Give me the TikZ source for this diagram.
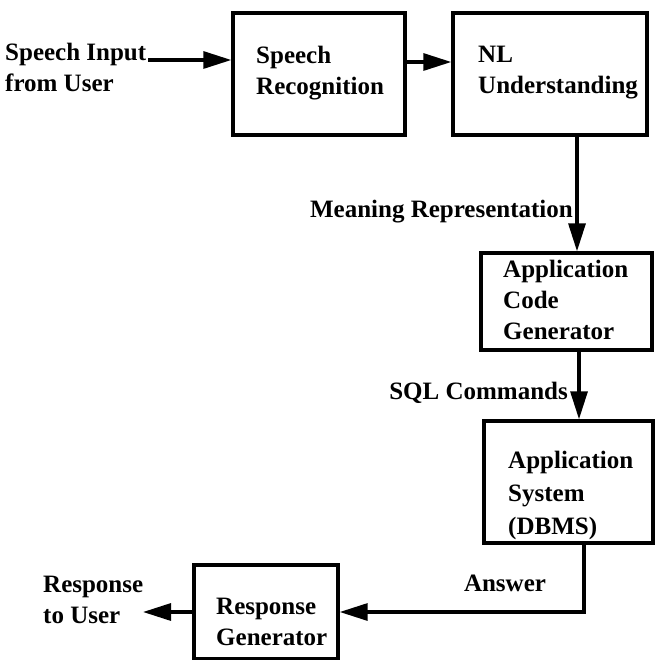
\documentclass[tikz,border=0pt]{standalone}
\usepackage{fontspec}
\setmainfont{Liberation Serif}
\usetikzlibrary{arrows.meta}
\begin{document}
\begin{tikzpicture}[x=1pt,y=-1pt,
  every node/.style={font=\bfseries\fontsize{25}{31}\selectfont},
  blk/.style={draw, line width=3.4pt, inner sep=0pt, anchor=center},
  lbl/.style={align=left, inner sep=0pt},
  arr/.style={line width=3.2pt, -{Triangle[length=28pt,width=17pt]}},
  ln/.style={line width=3.2pt}]
\useasboundingbox (0,0) rectangle (655,660);
% boxes
\node[blk, minimum width=172pt, minimum height=122pt] (sr) at (319,74) {};
\node[blk, minimum width=194pt, minimum height=122pt] (nl) at (550,74) {};
\node[blk, minimum width=171pt, minimum height=97pt] (acg) at (566.5,301.5) {};
\node[blk, minimum width=169pt, minimum height=122pt] (dbms) at (568.5,482) {};
\node[blk, minimum width=144pt, minimum height=94pt] (rg) at (266,612) {};
% texts
\node[lbl, anchor=west] (inp) at (5,67) {Speech Input\\from User};
\node[lbl, anchor=west] (srt) at (256,73) {Speech\\Recognition};
\node[lbl, anchor=west] (nlt) at (478,73) {NL\\Understanding};
\node[lbl, anchor=east] (mr) at (573,212) {Meaning Representation};
\node[lbl, anchor=west] (acgt) at (503,300) {Application\\Code\\Generator};
\node[lbl, anchor=east] (sql) at (568,393) {SQL Commands};
\node[lbl, anchor=west, font=\bfseries\fontsize{25}{33}\selectfont] (dbmst) at (508,495) {Application\\System\\(DBMS)};
\node[lbl] (ans) at (505,583) {Answer};
\node[lbl, anchor=west] (rgt) at (216,622) {Response\\Generator};
\node[lbl, anchor=west] (out) at (43,600) {Response\\to User};
% helper coordinates
\coordinate (inpend) at (148,60);
\coordinate (y1) at (0,62);
\coordinate (x1) at (577,0);
\coordinate (x2) at (579,0);
\coordinate (x3) at (584,0);
\coordinate (y2) at (0,612);
\coordinate (outtip) at (143,612);
% connectors
\draw[arr] (inpend) -- (inpend -| sr.west);
\draw[arr] (y1 -| sr.east) -- (y1 -| nl.west);
\draw[arr] (x1 |- nl.south) -- (x1 |- acg.north);
\draw[arr] (x2 |- acg.south) -- (x2 |- dbms.north);
\draw[arr] (x3 |- dbms.south) -- (x3 |- y2) -- (y2 -| rg.east);
\draw[arr] (y2 -| rg.west) -- (outtip);
\end{tikzpicture}
\end{document}
